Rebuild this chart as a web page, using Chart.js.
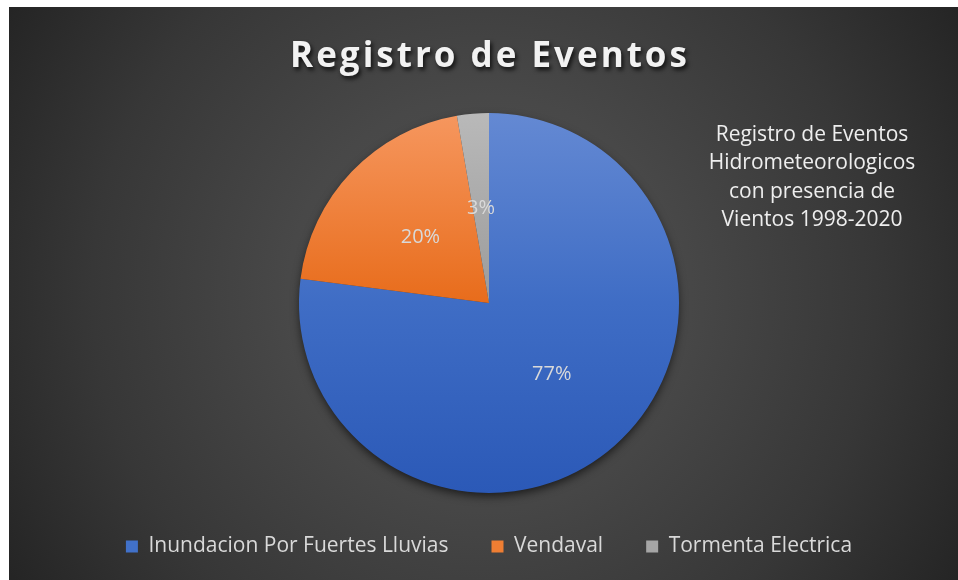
<!DOCTYPE html>
<html><head><meta charset="utf-8">
<script src="https://cdn.jsdelivr.net/npm/chart.js@4"></script>
<style>html,body{margin:0;padding:0;background:#fff}#wrap{width:958px;height:580px;position:relative}</style>
</head><body><div id="wrap"><canvas id="c" width="958" height="580"></canvas></div>
<script>
const chartTitle = 'Registro de Eventos';
const noteLines = ['Registro de Eventos', 'Hidrometeorologicos', 'con presencia de', 'Vientos 1998-2020'];
const categories = ['Inundacion Por Fuertes Lluvias', 'Vendaval', 'Tormenta Electrica'];
const eventCounts = [57, 15, 2];

const sliceStops = [
  ['#6489d3', '#3f6dc5', '#2b59b7'],
  ['#f6975f', '#e86c1b', '#d05a0b'],
  ['#b9b9b9', '#9b9b9b', '#858585']
];
const legendColors = ['#4171c9', '#ef7e33', '#a6a6a6'];
const FONT = '"Open Sans", "Noto Sans", sans-serif';

function sliceFill(ctx) {
  const stops = sliceStops[ctx.dataIndex] || sliceStops[0];
  const ca = ctx.chart.chartArea;
  if (!ca) return stops[1];
  const cy = (ca.top + ca.bottom) / 2, r = Math.min(ca.width, ca.height) / 2;
  const g = ctx.chart.ctx.createLinearGradient(0, cy - r, 0, cy + r);
  stops.forEach((c, i) => g.addColorStop(i / (stops.length - 1), c));
  return g;
}

const bgPlugin = {
  id: 'bg',
  beforeDraw(chart) {
    const c = chart.ctx;
    c.save();
    c.fillStyle = '#ffffff';
    c.fillRect(0, 0, chart.width, chart.height);
    const x0 = 9, y0 = 7, w = 949, h = 573;
    const cx = 484, cy = 292;
    const g = c.createRadialGradient(cx, cy, 0, cx, cy, 560);
    g.addColorStop(0, '#515151');
    g.addColorStop(0.35, '#484848');
    g.addColorStop(0.7, '#373737');
    g.addColorStop(1, '#242424');
    c.fillStyle = g;
    c.fillRect(x0, y0, w, h);
    c.restore();
  },
  beforeDatasetsDraw(chart) {
    const arc = chart.getDatasetMeta(0).data[0];
    if (!arc) return;
    const c = chart.ctx;
    c.save();
    c.shadowColor = 'rgba(0,0,0,0.65)';
    c.shadowBlur = 10;
    c.shadowOffsetY = 4;
    c.fillStyle = '#3a3a3a';
    c.beginPath();
    c.arc(arc.x, arc.y, arc.outerRadius - 1, 0, Math.PI * 2);
    c.fill();
    c.restore();
  },
  afterDatasetsDraw(chart) {
    const c = chart.ctx;
    const ds = chart.data.datasets[0].data;
    const total = ds.reduce((a, b) => a + b, 0);
    c.save();
    c.font = '20px ' + FONT;
    c.fillStyle = '#d9d9d9';
    c.textAlign = 'center';
    c.textBaseline = 'middle';
    chart.getDatasetMeta(0).data.forEach((arc, i) => {
      const p = arc.tooltipPosition();
      c.fillText(Math.round(ds[i] / total * 100) + '%', p.x, p.y);
    });
    c.restore();
  },
  afterDraw(chart) {
    const c = chart.ctx;
    c.save();
    c.textAlign = 'center';
    c.textBaseline = 'middle';
    c.font = '700 35px ' + FONT;
    c.letterSpacing = '3px';
    c.shadowColor = 'rgba(0,0,0,0.75)';
    c.shadowBlur = 4;
    c.shadowOffsetX = 2;
    c.shadowOffsetY = 3;
    c.fillStyle = '#f2f2f2';
    c.fillText(chartTitle, 490, 57);
    c.restore();
    c.save();
    c.textAlign = 'center';
    c.textBaseline = 'middle';
    c.font = '21px ' + FONT;
    c.fillStyle = '#eeeeee';
    noteLines.forEach((t, i) => c.fillText(t, 812, 135 + i * 28.5));
    c.restore();
  }
};

new Chart(document.getElementById('c'), {
  type: 'pie',
  data: {
    labels: categories,
    datasets: [{
      data: eventCounts,
      backgroundColor: sliceFill,
      borderWidth: 0
    }]
  },
  options: {
    responsive: false,
    animation: false,
    devicePixelRatio: 1,
    layout: { padding: { top: 113, bottom: 13, left: 20, right: 0 } },
    plugins: {
      tooltip: { enabled: false },
      title: { display: false },
      legend: {
        position: 'bottom',
        labels: {
          color: '#d9d9d9',
          boxWidth: 12,
          boxHeight: 12,
          padding: 43,
          font: { family: FONT, size: 21 },
          generateLabels(chart) {
            return chart.data.labels.map((l, i) => ({
              text: l, fillStyle: legendColors[i], strokeStyle: 'rgba(0,0,0,0)',
              lineWidth: 0, fontColor: '#d9d9d9', hidden: false, index: i
            }));
          }
        }
      }
    }
  },
  plugins: [bgPlugin]
});
</script></body></html>
